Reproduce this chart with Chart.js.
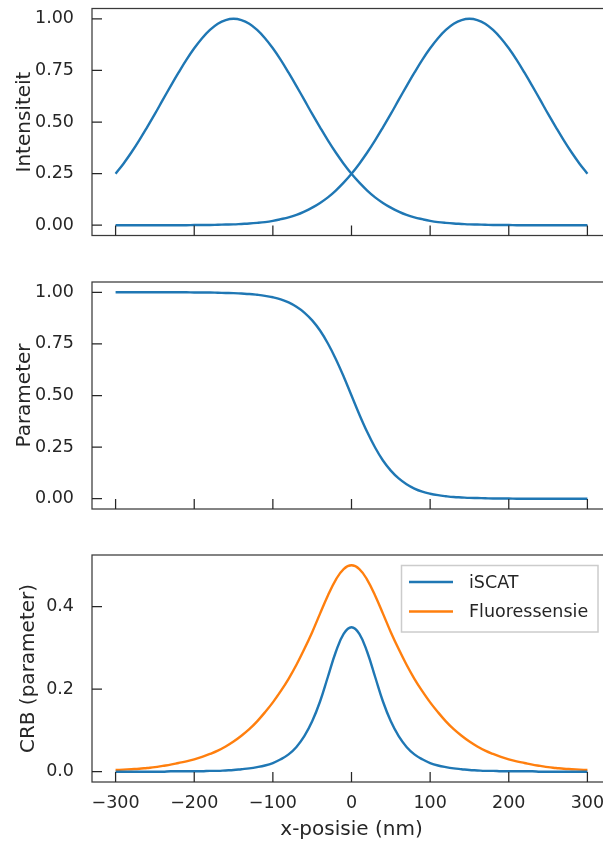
<!DOCTYPE html>
<html>
<head>
<meta charset="utf-8">
<script src="https://cdn.jsdelivr.net/npm/chart.js@4.4.1/dist/chart.umd.min.js"></script>
<style>
  html, body { margin: 0; padding: 0; background: #fff; overflow: hidden; }
  .panel { position: absolute; left: 0; width: 611px; }
</style>
</head>
<body>
<div class="panel" style="top:0px;height:245px"><canvas id="c1" width="611" height="245"></canvas></div>
<div class="panel" style="top:245px;height:275px"><canvas id="c2" width="611" height="275"></canvas></div>
<div class="panel" style="top:520px;height:326px"><canvas id="c3" width="611" height="326"></canvas></div>
<script>
// x positions (nm)
const xPos = [-300,-290,-280,-270,-260,-250,-240,-230,-220,-210,-200,-190,-180,-170,-160,-150,-140,-130,-120,-110,
  -100,-90,-80,-70,-60,-50,-40,-30,-20,-10,0,10,20,30,40,50,60,70,80,90,100,110,120,130,140,150,160,170,180,190,
  200,210,220,230,240,250,260,270,280,290,300];

// panel 1: intensity of the two spots
const intensityLeft = [.249,.298,.352,.411,.474,.539,.607,.674,.739,.801,.857,.906,.946,.976,.994,1.000,.994,.976,.946,.906,
  .857,.801,.739,.674,.607,.539,.474,.411,.352,.298,.249,.206,.168,.135,.108,.085,.066,.050,.038,.029,
  .021,.015,.011,.008,.006,.004,.003,.002,.001,.001,.001,0,0,0,0,0,0,0,0,0,0];
const intensityRight = [0,0,0,0,0,0,0,0,0,0,.001,.001,.001,.002,.003,.004,.006,.008,.011,.015,
  .021,.029,.038,.050,.066,.085,.108,.135,.168,.206,.249,.298,.352,.411,.474,.539,.607,.674,.739,.801,
  .857,.906,.946,.976,.994,1.000,.994,.976,.946,.906,.857,.801,.739,.674,.607,.539,.474,.411,.352,.298,.249];

// panel 2: parameter
const parameter = [1,1,1,1,1,1,1,1,1,1,.999,.999,.999,.998,.997,.996,.994,.992,.988,.983,
  .976,.966,.951,.930,.902,.864,.815,.752,.677,.592,.500,.408,.323,.248,.185,.136,.098,.070,.049,.034,
  .024,.017,.012,.008,.006,.004,.003,.002,.001,.001,.001,0,0,0,0,0,0,0,0,0,0];

// panel 3: CRB
const crbIscat = [0,0,0,0,0,0,0,.001,.001,.001,.001,.001,.002,.002,.003,.004,.006,.008,.011,.015,
  .021,.030,.042,.060,.086,.122,.170,.230,.290,.334,.350,.334,.290,.230,.170,.122,.086,.060,.042,.030,
  .021,.015,.011,.008,.006,.004,.003,.002,.002,.001,.001,.001,.001,.001,0,0,0,0,0,0,0];
const crbFluo = [.004,.005,.006,.007,.009,.011,.014,.017,.021,.025,.030,.036,.043,.051,.061,.073,.087,.103,.122,.144,
  .168,.195,.225,.259,.297,.338,.383,.427,.465,.491,.500,.491,.465,.427,.383,.338,.297,.259,.225,.195,
  .168,.144,.122,.103,.087,.073,.061,.051,.043,.036,.030,.025,.021,.017,.014,.011,.009,.007,.006,.005,.004];

const xTicks = [-300,-200,-100,0,100,200,300];
const yTicksTop = [0,0.25,0.5,0.75,1.0];
const yTicksCrb = [0,0.2,0.4];

const BLUE = '#1f77b4';
const ORANGE = '#ff7f0e';
const INK = '#262626';

Chart.defaults.font.family = "'DejaVu Sans', sans-serif";
Chart.defaults.color = INK;

const toPts = ys => ys.map((y, i) => ({ x: xPos[i], y: y }));
const fmtX = v => v < 0 ? '\u2212' + Math.abs(v) : String(v);

// frame + inward tick marks
const frame = {
  id: 'frame',
  afterDraw(chart) {
    const { ctx, chartArea: a, scales } = chart;
    ctx.save();
    ctx.strokeStyle = '#3a3a3a';
    ctx.lineWidth = 1.25;
    ctx.strokeRect(a.left, a.top, a.right - a.left, a.bottom - a.top);
    ctx.strokeStyle = INK;
    ctx.beginPath();
    xTicks.forEach(v => {
      const px = scales.x.getPixelForValue(v);
      ctx.moveTo(px, a.bottom);
      ctx.lineTo(px, a.bottom - 10);
    });
    scales.y.ticks.forEach(t => {
      const py = scales.y.getPixelForValue(t.value);
      ctx.moveTo(a.left, py);
      ctx.lineTo(a.left + 10, py);
    });
    ctx.stroke();
    ctx.restore();
  }
};

const boxLegend = {
  id: 'boxLegend',
  afterDraw(chart) {
    const { ctx } = chart;
    const l = 401.5, t = 45.5, w = 196.5, h = 66.5;
    ctx.save();
    ctx.fillStyle = '#fff';
    ctx.fillRect(l, t, w, h);
    ctx.strokeStyle = '#cccccc';
    ctx.lineWidth = 1.5;
    ctx.strokeRect(l, t, w, h);
    ctx.font = "17.5px 'DejaVu Sans'";
    ctx.textBaseline = 'middle';
    chart.data.datasets.forEach((ds, i) => {
      const y = t + 16.5 + i * 29.5;
      ctx.strokeStyle = ds.borderColor;
      ctx.lineWidth = 2.4;
      ctx.beginPath();
      ctx.moveTo(409, y);
      ctx.lineTo(453, y);
      ctx.stroke();
      ctx.fillStyle = INK;
      ctx.fillText(ds.label, 469, y + 1);
    });
    ctx.restore();
  }
};

function line(label, ys, color) {
  return {
    label: label,
    data: toPts(ys),
    borderColor: color,
    backgroundColor: color,
    borderWidth: 2.4,
    pointRadius: 0,
    tension: 0.4,
    fill: false
  };
}

function makePanel(id, datasets, opts) {
  return new Chart(document.getElementById(id), {
    type: 'line',
    data: { datasets: datasets },
    options: {
      responsive: false,
      animation: false,
      events: [],
      layout: { padding: { top: opts.padTop, bottom: opts.padBottom, left: 0, right: 0 } },
      plugins: { legend: { display: false }, tooltip: { enabled: false } },
      scales: {
        x: {
          type: 'linear',
          min: -330,
          max: 330,
          display: opts.showX,
          grid: { display: false },
          border: { display: false },
          afterBuildTicks: s => { s.ticks = xTicks.map(v => ({ value: v })); },
          afterFit: s => { s.height = opts.showX ? 64 : 0; s.paddingLeft = 0; s.paddingRight = 0; },
          ticks: { font: { size: 17.5 }, color: INK, padding: 3, maxRotation: 0, callback: fmtX },
          title: {
            display: opts.showX,
            text: 'x-posisie (nm)',
            font: { size: 20 },
            color: INK,
            padding: { top: 0, bottom: 4 }
          }
        },
        y: {
          min: opts.yMin,
          max: opts.yMax,
          grid: { display: false },
          border: { display: false },
          afterBuildTicks: s => { s.ticks = opts.yTicks.map(v => ({ value: v })); },
          afterFit: s => { s.width = 92; s.paddingTop = 0; s.paddingBottom = 0; },
          ticks: { font: { size: 17.5 }, color: INK, padding: 10, callback: v => v.toFixed(opts.digits) },
          title: {
            display: true,
            text: opts.yTitle,
            font: { size: 20 },
            color: INK,
            padding: { top: opts.titlePad, bottom: 0 }
          }
        }
      }
    },
    plugins: opts.legend ? [frame, boxLegend] : [frame]
  });
}

makePanel('c1', [line('links', intensityLeft, BLUE), line('rechts', intensityRight, BLUE)], {
  padTop: 8.5, padBottom: 9.5, showX: false, yMin: -0.05, yMax: 1.05,
  yTicks: yTicksTop, digits: 2, yTitle: 'Intensiteit', titlePad: 13
});

makePanel('c2', [line('parameter', parameter, BLUE)], {
  padTop: 37, padBottom: 11, showX: false, yMin: -0.05, yMax: 1.05,
  yTicks: yTicksTop, digits: 2, yTitle: 'Parameter', titlePad: 13
});

makePanel('c3', [line('iSCAT', crbIscat, BLUE), line('Fluoressensie', crbFluo, ORANGE)], {
  padTop: 35, padBottom: 0, showX: true, yMin: -0.025, yMax: 0.525,
  yTicks: yTicksCrb, digits: 1, yTitle: 'CRB (parameter)', titlePad: 17, legend: true
});
</script>
</body>
</html>
